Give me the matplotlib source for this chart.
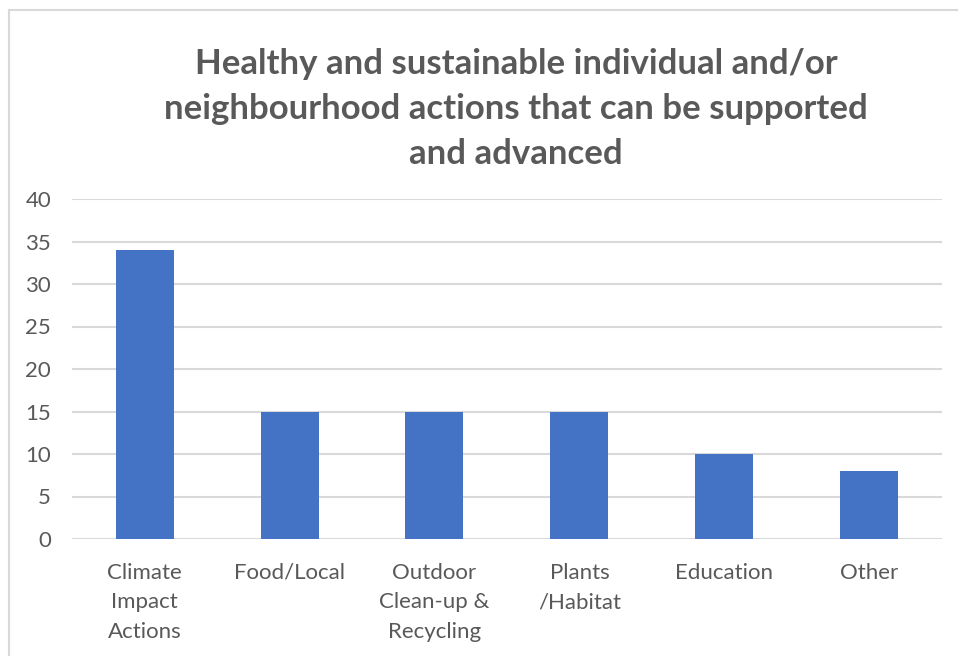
import matplotlib.pyplot as plt
from matplotlib.lines import Line2D

categories = ["Climate\nImpact\nActions", "Food/Local", "Outdoor\nClean-up &\nRecycling",
              "Plants\n/Habitat", "Education", "Other"]
counts = [34, 15, 15, 15, 10, 8]
y_ticks = [0, 5, 10, 15, 20, 25, 30, 35, 40]

title = ("Healthy and sustainable individual and/or\n"
         "neighbourhood actions that can be supported\n"
         "and advanced")

plt.rcParams["font.family"] = ["Lato", "DejaVu Sans"]

fig = plt.figure(figsize=(9.58, 6.56), dpi=100)
ax = fig.add_axes([72 / 958, 1 - 539 / 656, 870 / 958, 340 / 656])

x = range(len(categories))
ax.bar(x, counts, width=0.4, color="#4472C4", zorder=3)

ax.set_xlim(-0.5, len(categories) - 0.5)
ax.set_ylim(0, 40)
ax.set_yticks(y_ticks)
ax.set_xticks(list(x))
ax.set_xticklabels(categories, linespacing=1.6)
ax.tick_params(axis="both", length=0, labelsize=16, colors="#595959")
ax.tick_params(axis="x", pad=17)
ax.tick_params(axis="y", pad=15)
ax.grid(axis="y", color="#D9D9D9", lw=1.5, zorder=0)
for s in ax.spines.values():
    s.set_visible(False)

fig.text(516 / 958, 1 - 109 / 656, title, ha="center", va="center",
         fontsize=25, fontweight="bold", color="#595959", linespacing=1.5)

# chart frame, only the left and top edges are in view
fig.add_artist(Line2D([9 / 958, 9 / 958], [0, 1 - 10 / 656], color="#D9D9D9", lw=1.5))
fig.add_artist(Line2D([9 / 958, 1], [1 - 10 / 656, 1 - 10 / 656], color="#D9D9D9", lw=1.5))

fig.savefig("out.png", dpi=100)
